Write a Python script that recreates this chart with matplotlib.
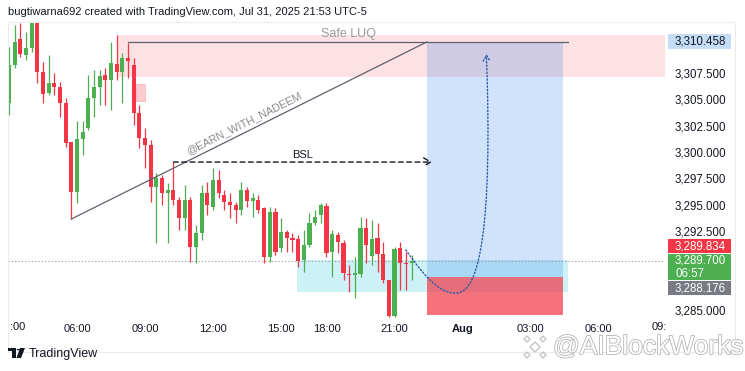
import matplotlib
matplotlib.use('Agg')
import matplotlib.pyplot as plt
from matplotlib.patches import Rectangle, FancyArrowPatch, Polygon, Circle
from matplotlib.path import Path
from matplotlib.transforms import blended_transform_factory
import matplotlib.patheffects as pe
import numpy as np

plt.rcParams['font.family'] = ['Liberation Sans', 'DejaVu Sans']

# 15 min bars, index 0 = 06:00 (the 1h session break is skipped on the axis)
bar_idx = np.arange(-12, 60)
opens = [3304.65, 3308.26, 3310.73, 3309.21, 3309.88, 3312.25, 3307.60, 3305.60, 3306.55, 3306.17,
         3304.65, 3300.95, 3296.20, 3301.23, 3302.28, 3305.13, 3306.17, 3307.31, 3306.84, 3308.36,
         3307.60, 3308.93, 3308.26, 3303.70, 3301.33, 3300.66, 3296.68, 3297.53, 3296.11, 3296.39,
         3295.44, 3293.73, 3295.44, 3290.98, 3292.31, 3296.11, 3294.78, 3297.34, 3295.92, 3295.25,
         3294.97, 3294.49, 3296.39, 3295.35, 3295.44, 3294.68, 3290.03, 3294.30, 3290.88, 3292.40,
         3291.83, 3291.74, 3289.74, 3291.17, 3293.26, 3294.02, 3294.87, 3290.50, 3292.12, 3291.36,
         3288.41, 3288.32, 3288.41, 3292.78, 3290.12, 3291.83, 3290.31, 3287.84, 3284.43, 3290.88,
         3289.46, 3289.46]
highs = [3309.97, 3312.06, 3312.25, 3311.40, 3312.60, 3312.60, 3308.55, 3309.21, 3307.50, 3306.65,
         3305.13, 3300.95, 3302.94, 3302.94, 3307.31, 3307.79, 3307.79, 3307.98, 3310.45, 3311.11,
         3309.40, 3310.35, 3308.93, 3304.46, 3302.28, 3301.14, 3298.01, 3297.82, 3297.06, 3299.05,
         3295.73, 3296.87, 3295.73, 3293.07, 3296.87, 3297.15, 3298.48, 3298.29, 3296.39, 3296.11,
         3295.25, 3297.15, 3296.68, 3296.11, 3295.92, 3294.78, 3294.78, 3294.68, 3293.73, 3292.59,
         3292.31, 3292.12, 3292.59, 3294.21, 3294.49, 3295.16, 3295.16, 3292.59, 3292.40, 3291.64,
         3289.27, 3290.03, 3293.83, 3293.73, 3293.54, 3293.26, 3291.45, 3287.84, 3290.98, 3291.45,
         3290.50, 3290.22]
lows = [3303.51, 3307.98, 3309.02, 3308.74, 3309.50, 3306.55, 3304.65, 3305.41, 3305.41, 3303.32,
        3300.47, 3293.64, 3295.16, 3299.72, 3302.09, 3303.32, 3304.46, 3304.46, 3303.99, 3306.84,
        3304.65, 3307.03, 3302.56, 3300.38, 3298.48, 3295.25, 3291.36, 3294.97, 3291.36, 3294.97,
        3292.59, 3292.59, 3289.55, 3289.46, 3291.64, 3294.02, 3294.49, 3295.63, 3294.49, 3293.73,
        3293.26, 3294.02, 3294.78, 3293.83, 3294.21, 3289.46, 3289.55, 3290.22, 3290.50, 3290.50,
        3290.50, 3289.08, 3288.60, 3290.98, 3293.07, 3293.26, 3290.03, 3288.13, 3290.41, 3287.84,
        3286.70, 3286.13, 3288.13, 3289.46, 3289.27, 3288.60, 3287.56, 3284.33, 3284.33, 3286.89,
        3286.89, 3287.84]
closes = [3308.26, 3310.45, 3309.31, 3309.88, 3312.25, 3307.60, 3305.51, 3306.55, 3306.17, 3304.65,
          3300.85, 3296.20, 3301.23, 3301.90, 3305.13, 3306.17, 3307.22, 3306.84, 3308.45, 3307.60,
          3308.93, 3308.64, 3303.70, 3301.33, 3300.66, 3296.68, 3297.53, 3296.11, 3296.39, 3295.44,
          3293.73, 3295.44, 3290.98, 3292.31, 3296.11, 3294.97, 3297.34, 3296.11, 3295.25, 3294.97,
          3294.49, 3296.39, 3295.35, 3295.63, 3294.49, 3290.03, 3294.30, 3290.50, 3292.40, 3291.83,
          3291.64, 3289.65, 3291.17, 3293.26, 3293.83, 3294.97, 3290.41, 3292.21, 3291.45, 3288.51,
          3288.32, 3288.51, 3292.78, 3291.17, 3291.74, 3290.31, 3287.84, 3284.43, 3290.79, 3289.46,
          3289.36, 3289.70]

# time axis labels (bar index -> label)
time_ticks = [0, 12, 24, 36, 44, 56, 68, 80, 92]
time_labels = ['06:00', '09:00', '12:00', '15:00', '18:00', '21:00', 'Aug', '03:00', '06:00']
price_ticks = [3285, 3292.5, 3295, 3297.5, 3300, 3302.5, 3305, 3307.5]

# drawing levels
target_price = 3310.458
high_bid = 3289.834
last_price = 3289.700
low_ask = 3288.176
countdown = '06:57'
safe_zone = (3307.12, 3311.11)
bsl_level = 3299.05
stop_level = 3288.13
stop_bottom = 3284.52
entry_zone = (3286.70, 3289.74)

GREEN = '#4caf50'
RED = '#f23645'

W, H = 745, 371
fig = plt.figure(figsize=(W / 100, H / 100), dpi=100)
ax = fig.add_axes([8 / W, 1 - 318 / H, 657 / W, 296 / H])


def fx(x):
    return x / W


def fy(y):
    return 1 - y / H


ax.set_xlim(-12.17, 103.7)
ax.set_ylim(3284.24, 3312.35)
for s in ax.spines.values():
    s.set_visible(False)

# zones
ax.add_patch(Rectangle((7, safe_zone[0]), 100, safe_zone[1] - safe_zone[0],
                       fc=RED, alpha=0.15, lw=0, zorder=1))
ax.add_patch(Rectangle((38.8, entry_zone[0]), 86.6 - 38.8, entry_zone[1] - entry_zone[0],
                       fc='#00bcd4', alpha=0.2, lw=0, zorder=1))
ax.add_patch(Rectangle((61.7, stop_level), 85.7 - 61.7, target_price - stop_level,
                       fc='#2f80ed', alpha=0.22, lw=0, zorder=1))
ax.add_patch(Rectangle((61.7, stop_bottom), 85.7 - 61.7, stop_level - stop_bottom,
                       fc=RED, alpha=0.7, lw=0, zorder=1))
ax.add_patch(Rectangle((10.4, 3304.84), 1.6, 1.62, fc=RED, alpha=0.25,
                       ec=RED, lw=0.6, zorder=4))

# last price dotted line
ax.axhline(last_price, color='#9598a1', lw=0.8, ls=(0, (1, 2)), zorder=2)

# candles
o = np.array(opens)
c = np.array(closes)
cols = [GREEN if cc >= oo else RED for oo, cc in zip(o, c)]
ax.vlines(bar_idx, lows, highs, colors=cols, lw=0.9, zorder=3)
body = np.maximum(np.abs(c - o), 0.08)
ax.bar(bar_idx, body, bottom=np.minimum(o, c), width=0.72, color=cols, lw=0, zorder=3)

# trend line + target line
ax.plot([-1, 61.7], [lows[11], target_price], color='#5d606b', lw=0.9, zorder=5)
ax.plot([9, 86.6], [target_price, target_price], color='#5d606b', lw=0.9, zorder=5)
ax.text(29.5, 3302.7, '@EARN_WITH_NADEEM', rotation=26.5, ha='center', va='center',
        fontsize=7.8, color='#8a8a8a', zorder=5)
ax.text(47.8, 3311.2, 'Safe LUQ', ha='center', va='center', fontsize=9, color='#9a9a9a', zorder=5)

# BSL arrow
ax.annotate('', xy=(62.6, bsl_level), xytext=(17, bsl_level),
            arrowprops=dict(arrowstyle='->,head_length=0.5,head_width=0.3', color='#131722',
                            lw=1, ls=(0, (3.5, 2.5)), shrinkA=0, shrinkB=0), zorder=5)
ax.text(39.8, 3299.75, 'BSL', ha='center', va='center', fontsize=8, color='#131722', zorder=5)

# projected path
verts = [(58.0, 3290.7), (62.0, 3287.6), (64.5, 3286.5), (67.0, 3286.6),
         (71.0, 3286.7), (73.3, 3293.0), (72.2, 3309.3)]
codes = [Path.MOVETO] + [Path.CURVE4] * 6
ax.add_patch(FancyArrowPatch(path=Path(verts, codes), arrowstyle='->,head_length=0.4,head_width=0.25',
                             mutation_scale=10, color='#2a5caa', lw=1, ls=(0, (1, 1.5)), zorder=6))

# axes ticks
ax.set_xticks(time_ticks)
ax.set_xticklabels(time_labels)
for lab in ax.get_xticklabels():
    lab.set_fontsize(8)
    lab.set_color('#131722')
    if lab.get_text() == 'Aug':
        lab.set_fontweight('bold')
ax.tick_params(axis='x', length=0, pad=4)
ax.yaxis.tick_right()
ax.set_yticks(price_ticks)
ax.set_yticklabels([f'{p:,.3f}' for p in price_ticks])
ax.tick_params(axis='y', length=0, pad=7, labelsize=8.3, labelcolor='#131722')
fig.text(fx(10), fy(327), ':00', ha='left', va='center', fontsize=8, color='#131722')
fig.text(fx(652), fy(327), '09:', ha='left', va='center', fontsize=8, color='#131722')

# price badges
bt = blended_transform_factory(fig.transFigure, ax.transData)
badges = [
    (3309.78, 3311.21, '#c5dcf7', '#131722', f'{target_price:,.3f}'),
    (3290.41, 3291.74, RED, 'white', f'{high_bid:,.3f}'),
    (3287.84, 3290.31, GREEN, 'white', f'{last_price:,.3f}\n{countdown}'),
    (3286.42, 3287.75, '#787b86', 'white', f'{low_ask:,.3f}'),
]
for y0, y1, fc, tc, txt in badges:
    fig.add_artist(Rectangle((fx(668), y0), fx(63), y1 - y0, transform=bt, fc=fc, lw=0))
    fig.text(fx(675), (y0 + y1) / 2, txt, transform=bt, ha='left', va='center',
             fontsize=8.3, color=tc, linespacing=1.2)

# panel frame
fig.add_artist(Rectangle((fx(8), fy(352)), fx(727), fy(22) - fy(352), transform=fig.transFigure,
                         fill=False, ec='#ececec', lw=0.8))

# header / footer
fig.text(fx(8), fy(12), 'bugtiwarna692 created with TradingView.com, Jul 31, 2025 21:53 UTC-5',
         ha='left', va='center', fontsize=8, color='#131722')
logo = [Polygon([(fx(8), fy(348)), (fx(16), fy(348)), (fx(16), fy(358)), (fx(12), fy(358)),
                 (fx(12), fy(351)), (fx(8), fy(351))], closed=True),
        Polygon([(fx(20), fy(348)), (fx(25), fy(348)), (fx(21), fy(358)), (fx(16.5), fy(358))],
                closed=True)]
for p in logo:
    p.set_transform(fig.transFigure)
    p.set_facecolor('#131722')
    p.set_edgecolor('none')
    fig.add_artist(p)
fig.add_artist(Circle((fx(18.3), fy(349.6)), 1.5 / W, transform=fig.transFigure, fc='#131722', lw=0))
fig.text(fx(29), fy(354), 'TradingView', ha='left', va='center', fontsize=9, color='#131722')

# watermark
for cx, cy, r in [(535, 347, 5), (527, 339, 3), (543, 339, 3), (527, 355, 3), (543, 355, 3)]:
    fig.add_artist(Polygon([(fx(cx - r), fy(cy)), (fx(cx), fy(cy - r)), (fx(cx + r), fy(cy)),
                            (fx(cx), fy(cy + r))], closed=True, transform=fig.transFigure,
                           fc='white', ec='#c0c0c0', lw=0.9))
wm = fig.text(fx(553), fy(347), '@AIBlockWorks', ha='left', va='center', fontsize=19, color='white')
wm.set_path_effects([pe.Stroke(linewidth=1.2, foreground='#b5b5b5'), pe.Normal()])

fig.savefig('out.png', dpi=100)
